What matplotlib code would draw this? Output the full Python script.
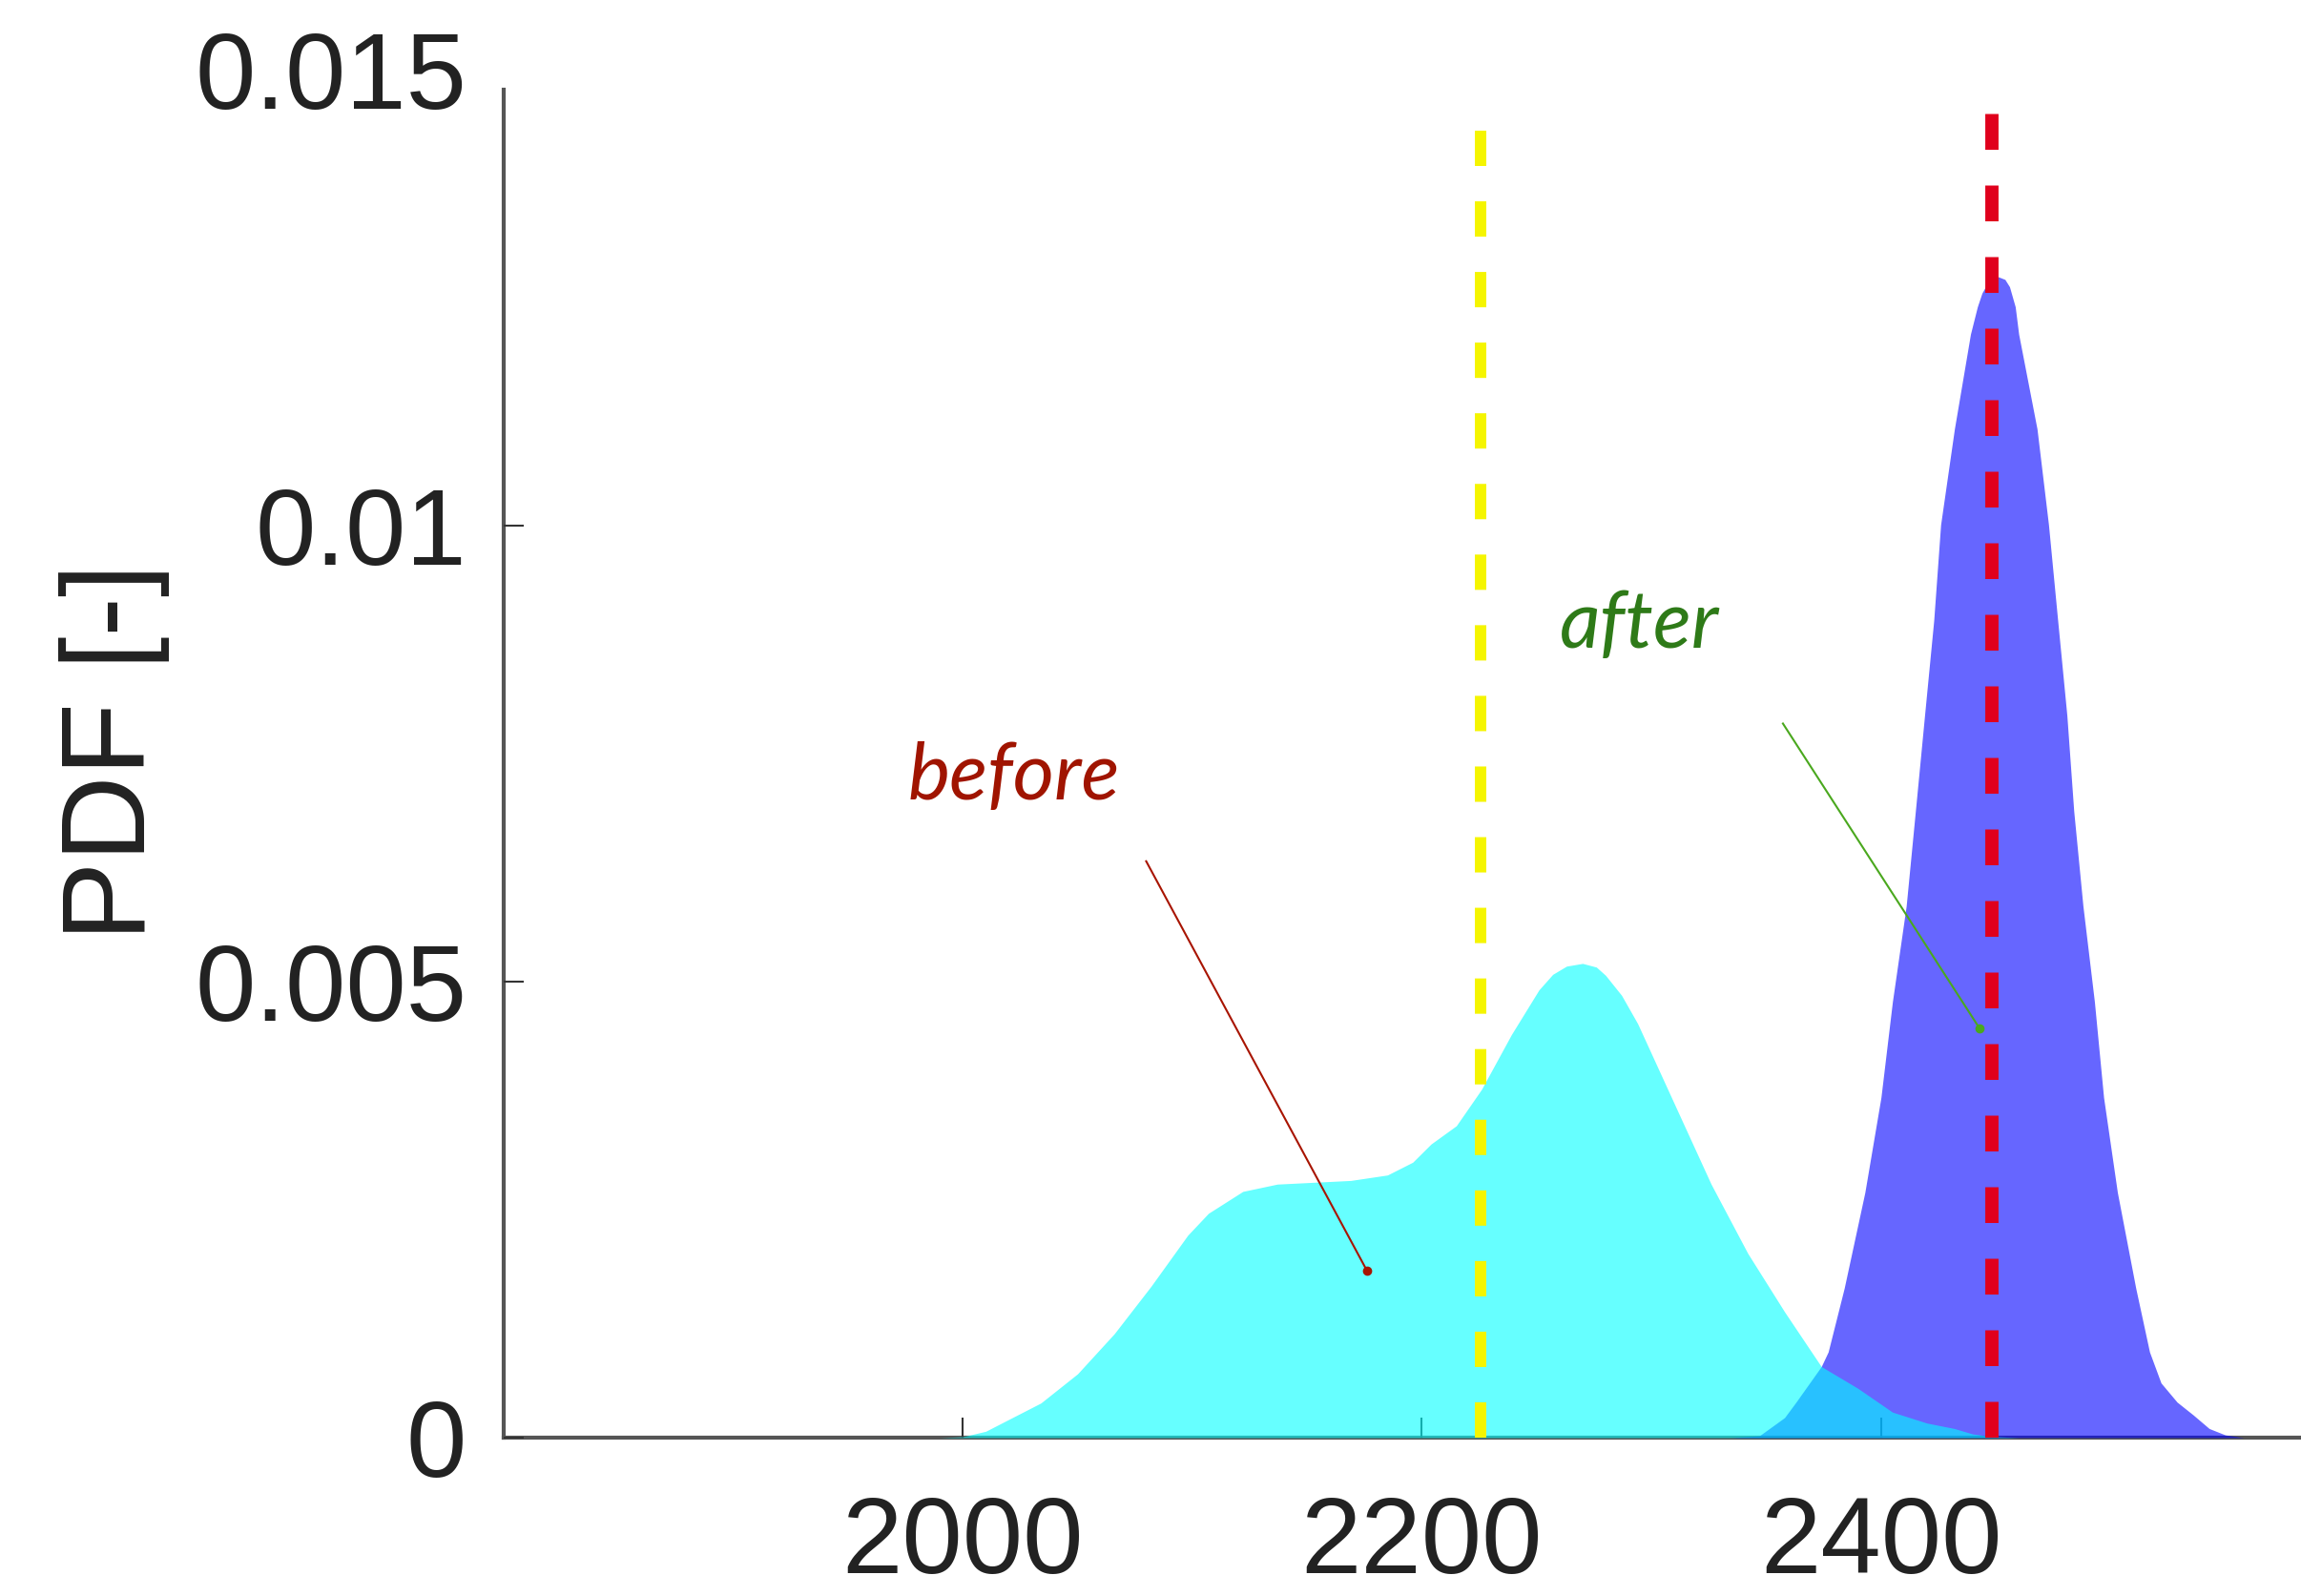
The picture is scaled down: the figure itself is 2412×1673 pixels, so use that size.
import numpy as np
import matplotlib
matplotlib.use("Agg")
import matplotlib.pyplot as plt

# PDF curves (x in the same units as the axis)
x_before = [1990, 2000, 2010, 2018.5, 2034, 2050, 2066, 2082, 2098, 2107,
            2122, 2137, 2153, 2169, 2185, 2196, 2204, 2215, 2226, 2239,
            2251, 2257, 2263, 2270, 2276, 2280, 2287, 2294, 2310, 2326,
            2342, 2358, 2374, 2390, 2405, 2420, 2432, 2440, 2450, 2460]
y_before = [0, 0.00001, 0.00007, 0.00018, 0.00038, 0.0007, 0.00114, 0.00166,
            0.00222, 0.00246, 0.0027, 0.00278, 0.0028, 0.00282, 0.00288,
            0.00302, 0.00322, 0.00342, 0.00382, 0.00442, 0.00491, 0.00508,
            0.00517, 0.0052, 0.00516, 0.00507, 0.00485, 0.00454, 0.00366,
            0.00278, 0.00202, 0.00138, 0.00078, 0.00054, 0.00028, 0.00016,
            0.0001, 0.00004, 0.00001, 0]

x_after = [2335, 2347, 2358, 2363, 2374, 2377, 2384, 2393, 2400, 2405,
           2411, 2415, 2419, 2423, 2426, 2432, 2439, 2442, 2444, 2446,
           2448, 2451, 2454, 2456, 2458.5, 2460, 2468, 2473, 2477, 2481,
           2484, 2488, 2493, 2497, 2503, 2511, 2517, 2522, 2529, 2536,
           2543, 2550, 2558]
y_after = [0, 0.00002, 0.00022, 0.00039, 0.00078, 0.00094, 0.00164, 0.00269,
           0.00373, 0.00478, 0.00583, 0.00687, 0.00792, 0.00896, 0.01001,
           0.01106, 0.0121, 0.0124, 0.01255, 0.01264, 0.0127, 0.01273,
           0.0127, 0.01262, 0.0124, 0.0121, 0.01106, 0.01001, 0.00896,
           0.00792, 0.00687, 0.00583, 0.00478, 0.00373, 0.00269, 0.00164,
           0.00094, 0.0006, 0.00039, 0.00025, 0.0001, 0.00003, 0]

mean_before = 2225.6
mean_after = 2448.4

xticks = [2000, 2200, 2400]
yticks = [0, 0.005, 0.01, 0.015]
ytick_labels = ["0", "0.005", "0.01", "0.015"]


def main():
    fig = plt.figure(figsize=(24.12, 16.73), dpi=100)
    ax = fig.add_axes([528 / 2412, 1 - 1507 / 1673, 1 - 528 / 2412,
                       (1507 - 73) / 1673])

    # blue first, cyan on top so the overlap comes out light blue
    ax.fill_between(x_after, y_after, 0, color="#0000ff", alpha=0.6, lw=0,
                    zorder=1)
    ax.fill_between(x_before, y_before, 0, color="#00ffff", alpha=0.6, lw=0,
                    zorder=1.1)

    ax.plot([mean_before, mean_before], [0, 0.0146], color="#f5f500",
            lw=8.6, dashes=(3.1, 3.1), zorder=2)
    ax.plot([mean_after, mean_after], [0, 0.0146], color="#e0001c",
            lw=10, dashes=(2.7, 2.7), zorder=2)

    # annotations
    ax.plot([2079.9, 2176.1], [0.00632, 0.00183], color="#a81400", lw=1.5,
            zorder=3)
    ax.plot([2176.1], [0.00183], "o", color="#a81400", ms=6, zorder=3)
    ax.text(1976, 0.0070, "before", color="#a01400", fontsize=60,
            family="Lato", style="italic", va="baseline", ha="left")
    ax.plot([2357.3, 2442.9], [0.00783, 0.00449], color="#4aa81e", lw=1.5,
            zorder=3)
    ax.plot([2442.9], [0.00449], "o", color="#4aa81e", ms=6, zorder=3)
    ax.text(2260, 0.00866, "after", color="#2e7a18", fontsize=60,
            family="Lato", style="italic", va="baseline", ha="left")

    ax.set_xlim(1800, 2583)
    ax.set_ylim(0, 0.015)
    ax.set_xticks(xticks)
    ax.set_yticks(yticks)
    ax.set_yticklabels(ytick_labels)
    for s in ["top", "right"]:
        ax.spines[s].set_visible(False)
    for s in ["left", "bottom"]:
        ax.spines[s].set_color("#555555")
        ax.spines[s].set_linewidth(3)
        ax.spines[s].set_zorder(0.5)
    ax.spines["left"].set_bounds(0, 0.01478)
    ax.set_axisbelow(True)
    ax.tick_params(direction="in", length=15, width=1.5, color="#333333",
                   labelsize=82, labelcolor="#222222",
                   labelfontfamily="Liberation Sans")
    ax.tick_params(axis="x", pad=43)
    ax.tick_params(axis="y", pad=28)
    ax.yaxis.get_major_ticks()[-1].tick1line.set_visible(False)

    fig.text(120 / 2412, 1 - 788 / 1673, "PDF [-]", rotation=90,
             ha="center", va="center", fontsize=90, color="#222222",
             family="Liberation Sans")

    fig.savefig("out.png", dpi=100)


if __name__ == "__main__":
    main()
